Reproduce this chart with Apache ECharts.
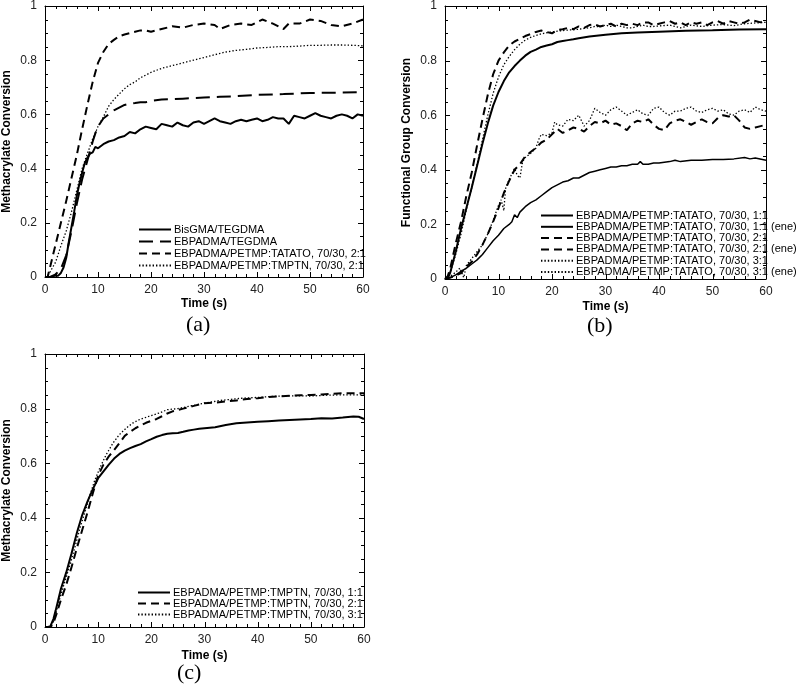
<!DOCTYPE html>
<html><head><meta charset="utf-8">
<script src="https://cdn.jsdelivr.net/npm/echarts@6/dist/echarts.min.js"></script>
<style>html,body{margin:0;padding:0;background:#fff}#c{width:800px;height:692px}</style>
</head><body><div id="c"></div>
<script>
// ---------- DATA ----------
const xTicks = [0, 10, 20, 30, 40, 50, 60];
const yTicks = [0, 0.2, 0.4, 0.6, 0.8, 1];

// Panel (a)
const aNames = ['BisGMA/TEGDMA', 'EBPADMA/TEGDMA', 'EBPADMA/PETMP:TATATO, 70/30, 2:1', 'EBPADMA/PETMP:TMPTN, 70/30, 2:1'];
const aBisT = [0,1,2,2.5,3,3.5,4,4.5,5,5.5,6,6.5,7,7.5,8,8.5,9,9.5,10,11,12,13,14,15,16,17,18,19,20,21,22,23,24,25,26,27,28,29,30,31,32,33,34,35,36,37,38,39,40,41,42,43,44,45,46,47,48,49,50,51,52,53,54,55,56,57,58,59,60];
const aBisV = [0,0,0.005,0.005,0.015,0.035,0.07,0.13,0.185,0.24,0.3,0.345,0.385,0.42,0.44,0.455,0.46,0.48,0.475,0.49,0.5,0.505,0.515,0.52,0.535,0.53,0.545,0.555,0.55,0.545,0.565,0.56,0.555,0.57,0.56,0.555,0.57,0.575,0.565,0.575,0.585,0.575,0.57,0.565,0.575,0.58,0.575,0.58,0.585,0.575,0.58,0.59,0.585,0.585,0.565,0.595,0.59,0.585,0.595,0.605,0.595,0.59,0.585,0.595,0.6,0.595,0.585,0.6,0.595];
const aEbT = [0,1,2,3,4,5,6,7,8,8.5,9,9.5,10,11,12,13,14,15,16,17,18,19,20,22,24,26,28,30,33,36,40,45,50,55,60];
const aEbV = [0,0,0.01,0.03,0.08,0.17,0.27,0.36,0.43,0.465,0.5,0.53,0.555,0.585,0.6,0.615,0.625,0.635,0.64,0.642,0.645,0.645,0.65,0.655,0.656,0.658,0.66,0.662,0.665,0.667,0.672,0.675,0.679,0.68,0.682];
const aTatT = [0,0.5,1,2,3,4,5,6,7,8,9,10,11,12,13,14,15,16,17,18,19,20,22,24,26,28,30,32,33,35,37,39,41,43,45,46,48,50,52,54,56,58,60];
const aTatV = [0,0,0.04,0.12,0.2,0.28,0.365,0.45,0.545,0.635,0.72,0.79,0.83,0.86,0.875,0.888,0.895,0.9,0.905,0.91,0.91,0.905,0.915,0.925,0.92,0.93,0.935,0.93,0.915,0.93,0.935,0.93,0.95,0.935,0.915,0.935,0.935,0.95,0.945,0.93,0.925,0.935,0.95];
const aTmpT = [0,0.5,1,2,3,4,5,6,7,8,9,10,11,12,13,14,15,16,17,18,19,20,22,24,26,28,30,32,34,36,38,40,42,44,46,48,50,52,54,56,58,60];
const aTmpV = [0,0.005,0.02,0.055,0.115,0.17,0.24,0.32,0.4,0.455,0.51,0.555,0.59,0.63,0.655,0.675,0.695,0.71,0.72,0.735,0.745,0.755,0.77,0.78,0.79,0.8,0.81,0.82,0.83,0.836,0.84,0.845,0.847,0.85,0.85,0.852,0.855,0.855,0.856,0.856,0.855,0.853];

// Panel (b)
const bNames = ['EBPADMA/PETMP:TATATO, 70/30, 1:1', 'EBPADMA/PETMP:TATATO, 70/30, 1:1 (ene)', 'EBPADMA/PETMP:TATATO, 70/30, 2:1 ', 'EBPADMA/PETMP:TATATO, 70/30, 2:1 (ene)', 'EBPADMA/PETMP:TATATO, 70/30, 3:1', 'EBPADMA/PETMP:TATATO, 70/30, 3:1 (ene)'];
const b11T = [0,0.5,1,2,3,4,5,6,7,8,9,10,11,12,13,14,15,16,17,18,19,20,21,22,23,24,25,27,30,33,36,40,45,50,55,60];
const b11V = [0,0,0.025,0.1,0.185,0.26,0.335,0.415,0.495,0.57,0.635,0.685,0.725,0.757,0.78,0.8,0.818,0.832,0.84,0.85,0.855,0.86,0.868,0.872,0.875,0.878,0.882,0.888,0.895,0.9,0.903,0.906,0.909,0.911,0.914,0.915];
const b11eT = [0,1,2,3,4,5,6,7,8,9,10,11,12,12.5,13,13.5,14,15,16,17,18,19,20,21,22,23,24,25,26,27,28,29,30,31,32,33,34,35,36,36.5,37,38,39,40,42,43,44,46,48,50,52,54,56,57,58,60];
const b11eV = [0,0.005,0.015,0.028,0.04,0.055,0.07,0.09,0.115,0.14,0.16,0.185,0.2,0.21,0.235,0.225,0.245,0.265,0.28,0.29,0.305,0.32,0.335,0.345,0.355,0.36,0.37,0.37,0.38,0.39,0.395,0.4,0.405,0.41,0.41,0.415,0.415,0.42,0.42,0.43,0.42,0.42,0.425,0.425,0.43,0.435,0.43,0.435,0.435,0.438,0.438,0.44,0.445,0.44,0.443,0.435];
const b21T = [0,0.5,1,2,3,4,5,6,7,8,9,10,11,12,13,14,15,16,17,18,19,20,21,22,23,24,25,26,27,28,29,30,31,32,33,34,35,36,37,38,39,40,41,42,43,44,45,46,47,48,49,50,51,52,53,54,55,56,57,58,59,60];
const b21V = [0,0.01,0.04,0.13,0.21,0.305,0.39,0.49,0.585,0.675,0.75,0.8,0.83,0.855,0.87,0.88,0.89,0.897,0.905,0.91,0.905,0.9,0.912,0.915,0.92,0.915,0.925,0.92,0.93,0.933,0.925,0.93,0.935,0.925,0.935,0.93,0.935,0.93,0.94,0.94,0.93,0.935,0.94,0.945,0.935,0.94,0.93,0.94,0.935,0.94,0.93,0.94,0.945,0.935,0.945,0.94,0.935,0.94,0.95,0.945,0.94,0.95];
const b21eT = [0,1,2,3,4,5,6,7,8,9,10,11,12,13,14,15,16,17,18,19,20,21,22,23,24,25,26,27,28,29,30,31,32,33,34,35,36,37,38,39,40,41,42,43,44,45,46,47,48,49,50,51,52,53,54,55,56,57,58,59,60];
const b21eV = [0,0.005,0.012,0.022,0.045,0.063,0.09,0.125,0.165,0.21,0.26,0.315,0.36,0.4,0.42,0.45,0.465,0.48,0.5,0.51,0.53,0.55,0.535,0.545,0.555,0.55,0.54,0.56,0.575,0.57,0.58,0.565,0.57,0.56,0.545,0.57,0.58,0.575,0.585,0.565,0.55,0.545,0.57,0.58,0.585,0.575,0.565,0.575,0.585,0.575,0.57,0.59,0.6,0.595,0.6,0.58,0.555,0.55,0.555,0.56,0.565];
const b31T = [0,0.5,1,2,3,4,5,6,7,8,9,10,11,12,13,14,15,16,17,18,19,20,21,22,23,24,25,26,27,28,29,30,31,32,33,34,35,36,37,38,39,40,42,44,46,48,50,52,54,56,58,60];
const b31V = [0,0.005,0.025,0.09,0.165,0.255,0.335,0.42,0.51,0.6,0.68,0.74,0.785,0.815,0.84,0.86,0.875,0.885,0.892,0.898,0.902,0.905,0.908,0.91,0.912,0.913,0.915,0.918,0.92,0.925,0.925,0.93,0.925,0.93,0.925,0.92,0.92,0.925,0.93,0.925,0.925,0.927,0.93,0.92,0.93,0.925,0.93,0.932,0.928,0.935,0.938,0.94];
const b31eT = [0,1,2,2.8,3.5,4,5,6,7,8,9,10,10.5,11,11.3,12,13,13.5,14,14.5,15,16,17,17.5,18,19,20,20.5,21,22,23,24,25,26,27,28,29,30,31,32,33,34,35,36,37,38,39,40,41,42,43,44,45,46,47,48,49,50,51,52,53,54,55,56,57,58,59,60];
const b31eV = [0,0.01,0.025,0.04,0.005,0.05,0.075,0.1,0.125,0.165,0.215,0.27,0.29,0.25,0.33,0.365,0.405,0.38,0.37,0.43,0.445,0.46,0.48,0.51,0.53,0.525,0.535,0.575,0.565,0.56,0.585,0.58,0.6,0.56,0.58,0.625,0.61,0.6,0.62,0.63,0.615,0.6,0.61,0.62,0.605,0.6,0.625,0.63,0.61,0.6,0.615,0.615,0.625,0.63,0.615,0.61,0.62,0.625,0.615,0.62,0.605,0.6,0.615,0.62,0.61,0.63,0.62,0.615];

// Panel (c)
const cNames = ['EBPADMA/PETMP:TMPTN, 70/30, 1:1', 'EBPADMA/PETMP:TMPTN, 70/30, 2:1 ', 'EBPADMA/PETMP:TMPTN, 70/30, 3:1'];
const c11T = [0,0.5,1,1.6,2,2.5,3,4,5,6,7,8,9,10,11,12,13,14,15,16,17,18,19,20,21,22,23,24,25,26,27,28,29,30,32,34,36,38,40,42,44,46,48,50,52,54,56,58,59,60];
const c11V = [0,0,0.002,0.03,0.06,0.1,0.14,0.2,0.27,0.345,0.41,0.46,0.505,0.545,0.57,0.595,0.617,0.634,0.646,0.655,0.663,0.67,0.68,0.688,0.697,0.703,0.708,0.71,0.711,0.715,0.72,0.723,0.726,0.728,0.732,0.74,0.746,0.749,0.752,0.754,0.756,0.758,0.76,0.762,0.765,0.764,0.767,0.771,0.77,0.762];
const c21T = [0,1,1.5,2.2,3,4,5,6,7,8,9,10,11,12,13,14,15,16,17,18,19,20,21,22,23,24,25,26,27,28,29,30,32,34,36,38,40,42,44,46,48,50,52,54,56,58,60];
const c21V = [0,0,0.01,0.05,0.1,0.155,0.22,0.29,0.355,0.42,0.49,0.555,0.595,0.625,0.648,0.674,0.7,0.715,0.728,0.738,0.748,0.755,0.762,0.772,0.782,0.79,0.795,0.8,0.805,0.81,0.815,0.82,0.822,0.826,0.83,0.835,0.838,0.842,0.845,0.847,0.849,0.85,0.852,0.854,0.856,0.856,0.856];
const c31T = [0,1,1.6,2,2.8,3.7,4.7,5.6,6.5,7.5,8.4,9.3,10.3,11.5,12.8,14,15.3,16.5,17.8,19.6,21.5,23,25,27,30,33,35,37,40,43,45,48,50,53,55,58,60];
const c31V = [0,0.002,0.02,0.045,0.106,0.165,0.228,0.29,0.357,0.42,0.48,0.534,0.582,0.631,0.674,0.705,0.729,0.747,0.76,0.772,0.784,0.796,0.8,0.808,0.82,0.83,0.834,0.838,0.841,0.845,0.846,0.847,0.846,0.849,0.85,0.85,0.85];

// ---------- BUILD ----------
const zip = (t, v) => t.map((x, i) => [x, v[i]]);
const FONT = 'Liberation Sans, Arial, sans-serif';
const SOLID = 'solid', LONG = [14, 7], DASH = [8, 5], DOT = [1.4, 2];
const X_SUB = 5, Y_SUB = 4;

const grids = [
  { left: 45, top: 5, width: 318, height: 272 },
  { left: 445, top: 5, width: 321, height: 274 },
  { left: 43, top: 354, width: 321, height: 273 }
];
const yTitles = ['Methacrylate Conversion', 'Functional Group Conversion', 'Methacrylate Conversion'];
const xGaps = [21, 22, 23];

const xAxis = [], yAxis = [];
grids.forEach((g, i) => {
  const base = {
    gridIndex: i, type: 'value',
    axisLine: { show: true, onZero: false, lineStyle: { color: '#000', width: 1 } },
    axisTick: { show: false }, minorTick: { show: false }, splitLine: { show: false }
  };
  const xr = { min: xTicks[0], max: xTicks[xTicks.length - 1], interval: 10 };
  const yr = { min: yTicks[0], max: yTicks[yTicks.length - 1], interval: 0.2 };
  xAxis.push(Object.assign({}, base, xr, {
    position: 'bottom',
    axisLabel: { show: true, color: '#222', fontSize: 12, fontFamily: FONT, margin: 7 },
    name: 'Time (s)', nameLocation: 'middle', nameGap: xGaps[i],
    nameTextStyle: { color: '#000', fontSize: 12, fontWeight: 'bold', fontFamily: FONT }
  }));
  xAxis.push(Object.assign({}, base, xr, { position: 'top', axisLabel: { show: false } }));
  yAxis.push(Object.assign({}, base, yr, {
    position: 'left',
    axisLabel: { show: true, color: '#222', fontSize: 12, fontFamily: FONT, margin: 8 },
    name: yTitles[i], nameLocation: 'middle', nameGap: 32,
    nameTextStyle: { color: '#000', fontSize: 12, fontWeight: 'bold', fontFamily: FONT }
  }));
  yAxis.push(Object.assign({}, base, yr, { position: 'right', axisLabel: { show: false } }));
});

function line(name, data, panel, type, width) {
  return {
    type: 'line', name: name, data: data,
    xAxisIndex: panel * 2, yAxisIndex: panel * 2,
    symbol: 'none',
    lineStyle: { color: '#000', width: width, type: type },
    itemStyle: { color: '#000' }
  };
}

// tick marks (inside, on all four sides), placed through the axis scales
function tickData() {
  const out = [];
  for (let k = 0; k < xTicks.length; k++) {
    out.push([xTicks[k], yTicks[0], 1, 0]);
    if (k < xTicks.length - 1) {
      const step = (xTicks[k + 1] - xTicks[k]) / X_SUB;
      for (let m = 1; m < X_SUB; m++) out.push([xTicks[k] + m * step, yTicks[0], 0, 0]);
    }
  }
  for (let k = 0; k < yTicks.length; k++) {
    out.push([xTicks[0], yTicks[k], 1, 1]);
    if (k < yTicks.length - 1) {
      const step = (yTicks[k + 1] - yTicks[k]) / Y_SUB;
      for (let m = 1; m < Y_SUB; m++) out.push([xTicks[0], yTicks[k] + m * step, 0, 1]);
    }
  }
  return out;
}
const X0 = xTicks[0], X1 = xTicks[xTicks.length - 1], Y0 = yTicks[0], Y1 = yTicks[yTicks.length - 1];
function renderTick(params, api) {
  const major = api.value(2) === 1;
  const len = major ? 5 : 3;
  const st = { stroke: '#000', lineWidth: 1 };
  if (api.value(3) === 0) {
    const x = api.value(0);
    const b = api.coord([x, Y0]), t = api.coord([x, Y1]);
    const px = Math.round(b[0]) + 0.5;
    return { type: 'group', children: [
      { type: 'line', shape: { x1: px, y1: b[1], x2: px, y2: b[1] - len }, style: st },
      { type: 'line', shape: { x1: px, y1: t[1], x2: px, y2: t[1] + len }, style: st }
    ] };
  }
  const y = api.value(1);
  const l = api.coord([X0, y]), r = api.coord([X1, y]);
  const py = Math.round(l[1]) + 0.5;
  return { type: 'group', children: [
    { type: 'line', shape: { x1: l[0], y1: py, x2: l[0] + len, y2: py }, style: st },
    { type: 'line', shape: { x1: r[0], y1: py, x2: r[0] - len, y2: py }, style: st }
  ] };
}
function tickSeries(panel) {
  return {
    type: 'custom', xAxisIndex: panel * 2, yAxisIndex: panel * 2,
    data: tickData(), encode: { x: 0, y: 1 },
    renderItem: renderTick, silent: true, clip: false, z: 3
  };
}

const series = [
  line(aNames[0], zip(aBisT, aBisV), 0, SOLID, 2),
  line(aNames[1], zip(aEbT, aEbV), 0, LONG, 2),
  line(aNames[2], zip(aTatT, aTatV), 0, DASH, 2),
  line(aNames[3], zip(aTmpT, aTmpV), 0, DOT, 1.3),
  line(bNames[0], zip(b11T, b11V), 1, SOLID, 2),
  line(bNames[1], zip(b11eT, b11eV), 1, SOLID, 1.5),
  line(bNames[2], zip(b21T, b21V), 1, DASH, 2),
  line(bNames[3], zip(b21eT, b21eV), 1, DASH, 2),
  line(bNames[4], zip(b31T, b31V), 1, DOT, 1.3),
  line(bNames[5], zip(b31eT, b31eV), 1, DOT, 1.3),
  line(cNames[0], zip(c11T, c11V), 2, SOLID, 2),
  line(cNames[1], zip(c21T, c21V), 2, DASH, 2),
  line(cNames[2], zip(c31T, c31V), 2, DOT, 1.3),
  tickSeries(0), tickSeries(1), tickSeries(2)
];

function legend(names, left, top, gap) {
  return {
    data: names, orient: 'vertical', left: left, top: top, padding: 0,
    itemWidth: 32, itemHeight: 8, itemGap: gap,
    selectedMode: false,
    itemStyle: { color: 'rgba(0,0,0,0)', borderColor: 'rgba(0,0,0,0)', borderWidth: 0, opacity: 0 },
    textStyle: { color: '#000', fontSize: 11, fontFamily: FONT, lineHeight: 11, padding: [0, 0, 0, -2] }
  };
}

const option = {
  animation: false,
  grid: grids,
  xAxis: xAxis,
  yAxis: yAxis,
  legend: [
    legend(aNames, 138, 224, 1),
    legend(bNames, 540, 210, 0.3),
    legend(cNames, 137, 587, 0)
  ],
  series: series,
  graphic: [
    { type: 'text', left: 186, top: 314, style: { text: '(a)', font: '22px "Liberation Serif", serif', fill: '#000' } },
    { type: 'text', left: 587, top: 315, style: { text: '(b)', font: '22px "Liberation Serif", serif', fill: '#000' } },
    { type: 'text', left: 177, top: 662, style: { text: '(c)', font: '22px "Liberation Serif", serif', fill: '#000' } }
  ]
};

const chart = echarts.init(document.getElementById('c'));
chart.setOption(option);
</script>
</body></html>
